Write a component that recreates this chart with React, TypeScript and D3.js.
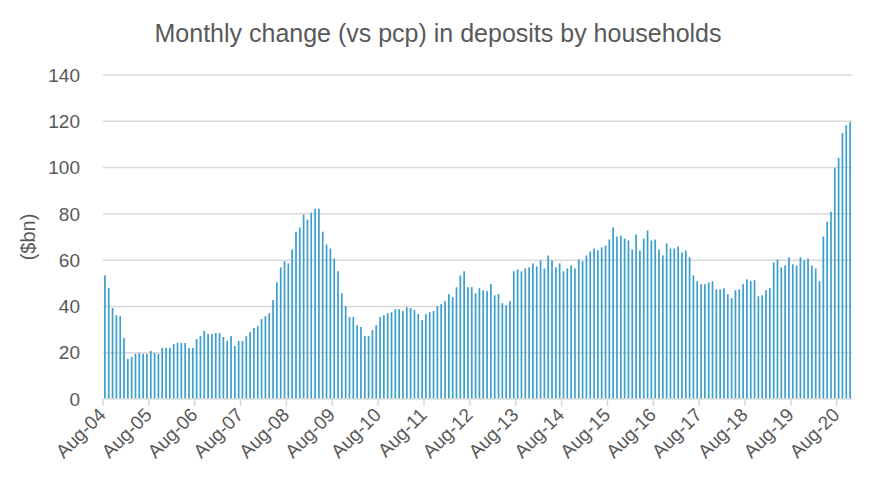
import React from "react";
import * as d3 from "d3";

// Monthly change (vs pcp) in household deposits, $bn, Aug-04 .. Nov-20
const values: number[] = [
  53.4, 47.9, 39.3, 36.2, 35.8, 26.4, 17.3, 18.2, 19.5, 19.9, 19.5, 19.5,
  20.8, 19.9, 19.5, 22.1, 22.1, 22.1, 23.8, 24.2, 24.2, 24.2, 22.1, 22.1,
  25.9, 27.2, 29.4, 28.1, 28.1, 28.5, 28.5, 26.8, 25.1, 27.2, 22.9, 25.1,
  25.1, 27.2, 28.9, 30.7, 31.5, 34.5, 35.8, 37.1, 42.7, 50.4, 56.9, 59.5,
  58.6, 64.6, 72.3, 74.1, 79.7, 77.5, 80.5, 82.2, 82.2, 72.3, 66.8, 65.0,
  60.7, 55.2, 45.7, 40.1, 35.4, 35.4, 31.9, 31.1, 27.2, 27.2, 29.8, 31.9,
  35.4, 36.2, 37.1, 37.5, 38.8, 38.8, 38.0, 39.7, 39.3, 38.4, 36.7, 34.1,
  36.7, 37.5, 38.0, 40.1, 41.0, 42.3, 45.3, 44.0, 48.3, 53.4, 55.2, 48.3,
  48.3, 45.7, 47.9, 47.0, 46.6, 49.6, 44.8, 45.3, 41.4, 40.5, 42.3, 55.2,
  56.0, 55.2, 56.4, 56.9, 58.6, 57.3, 59.9, 56.4, 62.0, 59.9, 56.9, 58.6,
  55.2, 56.4, 57.7, 56.4, 60.3, 59.5, 62.0, 63.8, 65.0, 64.2, 65.5, 66.3,
  68.9, 74.1, 70.2, 70.6, 69.3, 68.5, 64.6, 71.1, 64.2, 69.3, 72.8, 68.5,
  68.9, 64.6, 62.0, 67.2, 65.0, 65.0, 65.9, 63.3, 64.2, 61.2, 53.4, 50.9,
  49.6, 49.6, 50.4, 50.9, 47.4, 47.4, 47.9, 45.3, 43.6, 47.0, 47.4, 49.6,
  51.7, 50.9, 51.3, 44.4, 44.8, 47.0, 47.9, 59.0, 60.3, 56.9, 57.7, 61.2,
  58.2, 57.7, 61.2, 59.9, 60.7, 57.7, 56.4, 50.9, 70.2, 76.6, 80.9, 99.9,
  104.2, 114.9, 118.3, 119.6,
];

const months: Date[] = d3.timeMonths(new Date(2004, 7, 1), new Date(2020, 11, 1));
const yTicks = [0, 20, 40, 60, 80, 100, 120, 140];
const fmt = d3.timeFormat("%b-%y");

const W = 872;
const H = 485;
const M = { top: 75, right: 20, bottom: 86, left: 103 };
const FONT = "'Liberation Sans', Arial, sans-serif";
const TEXT = "#595959";
const GRID = "#d9d9d9";
const BAR = "#3a9fcb";

export default function App() {
  const x = d3
    .scaleBand<number>()
    .domain(months.map((_, i) => i))
    .range([M.left, W - M.right])
    .paddingInner(0)
    .paddingOuter(0);
  const y = d3.scaleLinear().domain([0, 140]).range([H - M.bottom, M.top]);
  const step = x.step();
  const bw = 1.7;
  const augIdx = months.map((d, i) => i).filter((i) => months[i].getMonth() === 7);

  return (
    <div style={{ position: "absolute", left: 0, top: 0 }}>
      <svg width={W} height={H} style={{ display: "block", background: "#fff" }}>
        <text
          x={438}
          y={42}
          textAnchor="middle"
          fontFamily={FONT}
          fontSize={25}
          fill={TEXT}
        >
          Monthly change (vs pcp) in deposits by households
        </text>

        {yTicks.slice(1).map((t) => (
          <line
            key={t}
            x1={M.left}
            x2={W - M.right}
            y1={y(t)}
            y2={y(t)}
            stroke={GRID}
            strokeWidth={1.5}
          />
        ))}
        {yTicks.map((t) => (
          <text
            key={t}
            x={80}
            y={y(t) + 6.7}
            textAnchor="end"
            fontFamily={FONT}
            fontSize={19}
            fill={TEXT}
          >
            {t}
          </text>
        ))}
        <text
          transform={`translate(35,${(y(0) + y(140)) / 2}) rotate(-90)`}
          textAnchor="middle"
          fontFamily={FONT}
          fontSize={20}
          fill={TEXT}
        >
          ($bn)
        </text>

        {values.map((v, i) => (
          <rect
            key={i}
            x={(x(i) as number) + (step - bw) / 2}
            y={y(v)}
            width={bw}
            height={y(0) - y(v)}
            fill={BAR}
          />
        ))}

        <line
          x1={M.left}
          x2={W - M.right}
          y1={y(0)}
          y2={y(0)}
          stroke={GRID}
          strokeWidth={1.5}
        />
        {augIdx.map((i) => {
          const tx = x(i) as number;
          return (
            <g key={i}>
              <line x1={tx} x2={tx} y1={y(0)} y2={y(0) + 7} stroke={GRID} strokeWidth={1.5} />
              <text
                transform={`translate(${tx + 4},${y(0) + 17}) rotate(-45)`}
                textAnchor="end"
                fontFamily={FONT}
                fontSize={19}
                fill={TEXT}
              >
                {fmt(months[i])}
              </text>
            </g>
          );
        })}
      </svg>
    </div>
  );
}
